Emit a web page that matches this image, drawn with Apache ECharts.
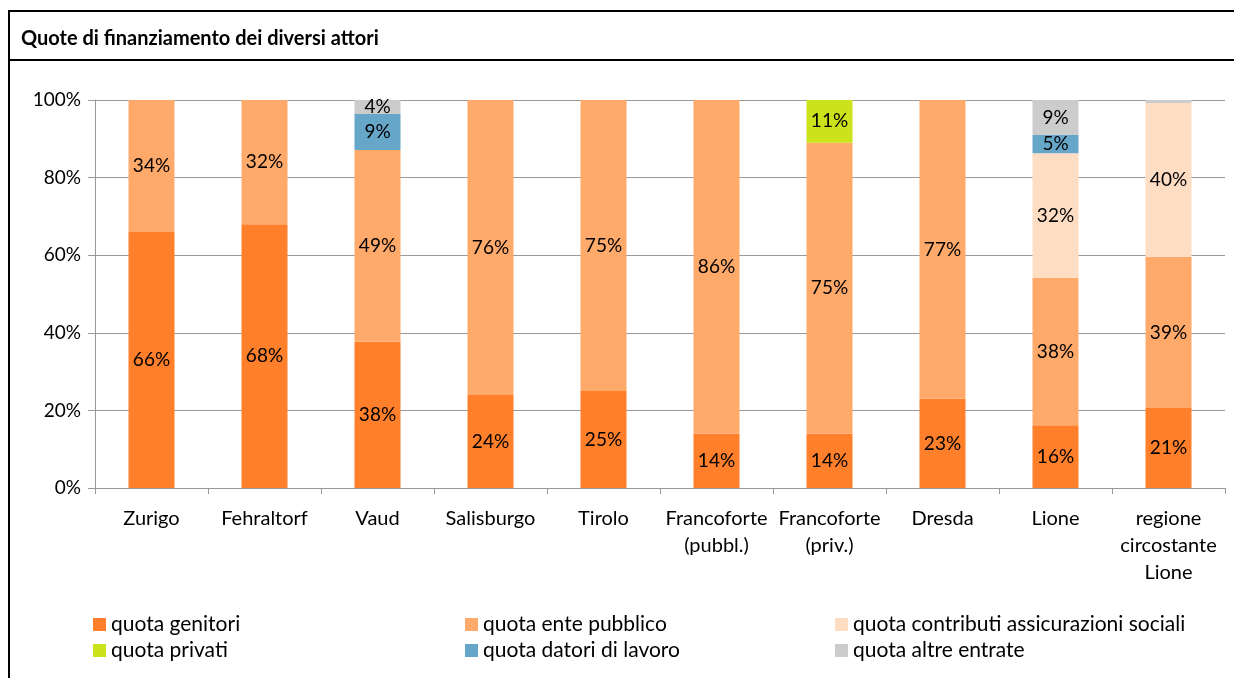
<!DOCTYPE html>
<html>
<head>
<meta charset="utf-8">
<script src="https://cdn.jsdelivr.net/npm/echarts@6/dist/echarts.min.js"></script>
<style>
  html, body { margin: 0; padding: 0; background: #fff; }
  #chart { width: 1234px; height: 678px; }
</style>
</head>
<body>
<div id="chart"></div>
<script>
const categories = ['Zurigo', 'Fehraltorf', 'Vaud', 'Salisburgo', 'Tirolo',
    'Francoforte\n(pubbl.)', 'Francoforte\n(priv.)', 'Dresda', 'Lione', 'regione\ncircostante\nLione'];
const seriesNames = ['quota genitori', 'quota ente pubblico', 'quota contributi assicurazioni sociali',
    'quota privati', 'quota datori di lavoro', 'quota altre entrate'];
const genitori     = [66, 68, 37.7, 24, 25, 14, 14, 23, 16.2, 20.6];
const entePubblico = [34, 32, 49.4, 76, 75, 86, 75, 77, 37.9, 39.0];
const contributi   = [0, 0, 0, 0, 0, 0, 0, 0, 32.2, 39.6];
const privati      = [0, 0, 0, 0, 0, 0, 11, 0, 0, 0];
const datori       = [0, 0, 9.3, 0, 0, 0, 0, 0, 4.7, 0];
const altre        = [0, 0, 3.6, 0, 0, 0, 0, 0, 9.0, 0.8];
const yTicks = [0, 20, 40, 60, 80, 100];
const colors = ['#FF7F2A', '#FFA96B', '#FFDDC2', '#CCE31C', '#65A6C9', '#CCCCCC'];

const font = 'Lato, "Open Sans", sans-serif';

function makeSeries(name, data, color) {
    return {
        name: name,
        type: 'bar',
        stack: 'total',
        data: data,
        barWidth: 46,
        itemStyle: { color: color },
        label: {
            show: true,
            position: 'inside',
            color: '#000',
            fontFamily: font,
            fontSize: 19,
            formatter: (p) => p.value >= 1 ? Math.round(p.value) + '%' : ''
        },
        emphasis: { disabled: true }
    };
}

const allData = [genitori, entePubblico, contributi, privati, datori, altre];

// legend: 3 columns x 2 rows
const legendCols = [93, 465, 835];
const legendRows = [614, 640];
let legends = seriesNames.map((n, i) => ({
    data: [n],
    left: legendCols[i % 3],
    top: legendRows[Math.floor(i / 3)],
    itemWidth: 13,
    itemHeight: 13,
    icon: 'rect',
    padding: 0,
    textStyle: { fontSize: 21, color: '#000', fontFamily: font },
    selectedMode: false
}));

let option = {
    animation: false,
    textStyle: { fontFamily: font },
    graphic: [
        {
            type: 'rect',
            shape: { x: 9, y: 11, width: 1240, height: 690 },
            style: { fill: 'none', stroke: '#000', lineWidth: 2 },
            silent: true
        },
        {
            type: 'line',
            shape: { x1: 9, y1: 60, x2: 1240, y2: 60 },
            style: { stroke: '#000', lineWidth: 2 },
            silent: true
        },
        {
            type: 'text',
            left: 21,
            top: 29,
            style: {
                text: 'Quote di finanziamento dei diversi attori',
                font: 'bold 20px ' + font,
                fill: '#000'
            },
            silent: true
        }
    ],
    grid: {
        left: 95,
        right: 9,
        top: 100,
        bottom: 190,
        containLabel: false
    },
    xAxis: {
        type: 'category',
        data: categories,
        axisLine: { lineStyle: { color: '#999', width: 1 } },
        axisTick: { show: true, length: 6, lineStyle: { color: '#999' } },
        axisLabel: {
            color: '#000',
            fontSize: 20,
            lineHeight: 27,
            margin: 17,
            interval: 0
        }
    },
    yAxis: {
        type: 'value',
        min: 0,
        max: 100,
        interval: 20,
        axisLine: { show: true, lineStyle: { color: '#999', width: 1 } },
        axisTick: { show: true, length: 7, lineStyle: { color: '#999' } },
        axisLabel: {
            color: '#000',
            fontSize: 19,
            margin: 14,
            formatter: (v) => yTicks.indexOf(v) >= 0 ? v + '%' : ''
        },
        splitLine: { lineStyle: { color: '#999', width: 1 } }
    },
    legend: legends,
    series: seriesNames.map((n, i) => makeSeries(n, allData[i], colors[i]))
};

let myChart = echarts.init(document.getElementById('chart'));
myChart.setOption(option);
</script>
</body>
</html>
